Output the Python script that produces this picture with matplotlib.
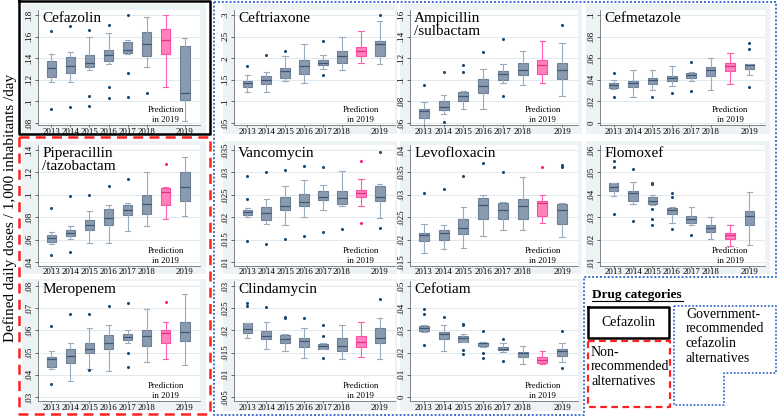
import matplotlib
matplotlib.use("Agg")
import matplotlib.pyplot as plt
from matplotlib.patches import Rectangle
from matplotlib.lines import Line2D
import matplotlib.transforms as mtransforms

plt.rcParams['font.family'] = 'Liberation Serif'

W, H = 778, 418

years = ["2013", "2014", "2015", "2016", "2017", "2018", "2019"]
year_pos = [1, 2, 3, 4, 5, 6, 8]   # position 7 is the 2019 prediction

# box stats per year: (whisker low, q1, median, q3, whisker high); 7th entry = prediction
cefazolin = [(.118, .123, .131, .137, .144), (.118, .126, .133, .141, .146), (.129, .132, .136, .143, .160),
             (.135, .137, .143, .148, .163), (.144, .145, .148, .155, .157), (.132, .142, .153, .164, .178),
             (.113, .144, .157, .167, .180), (.082, .101, .108, .151, .159)]
cefazolin_out = [[.165, .093], [.170, .095], [.166, .105, .096], [.171, .113, .103], [.180, .126, .104], [.108], [], []]

ceftriaxone = [(.121, .133, .143, .148, .161), (.121, .140, .149, .158, .167), (.148, .154, .170, .177, .205),
               (.143, .164, .181, .196, .234), (.175, .184, .190, .195, .207), (.173, .189, .204, .216, .249),
               (.190, .204, .217, .226, .262), (.187, .205, .233, .240, .287)]
ceftriaxone_out = [[.183], [.207], [.217], [], [.240, .160], [], [], [.300]]

ampicillin = [(.056, .065, .071, .0725, .079), (.068, .072, .075, .080, .0856), (.073, .080, .085, .089, .090),
              (.073, .0875, .094, .1006, .110), (.097, .100, .105, .108, .115), (.095, .104, .109, .116, .127),
              (.097, .105, .114, .118, .136), (.085, .101, .109, .116, .134)]
ampicillin_out = [[.095], [.1075, .061], [.114, .107], [.126], [.1375, .085], [], [], [.151]]

cefmetazole = [(.0317, .0326, .035, .037, .0396), (.0244, .0335, .0366, .039, .0488), (.0305, .036, .0396, .0418, .0494),
               (.034, .039, .042, .0436, .053), (.0387, .042, .0445, .046, .047), (.031, .0433, .0488, .0518, .060),
               (.0357, .0479, .053, .056, .0646), (.0442, .0497, .0537, .0543, .0545)]
cefmetazole_out = [[.046, .0238], [], [.0244], [.028], [.0567, .030], [], [], [.0744, .0683, .0335]]

piperacillin = [(.0558, .0579, .061, .0639, .0669), (.0603, .063, .0663, .0684, .0722), (.057, .069, .0734, .0773, .0854),
                (.057, .0734, .0794, .0869, .0913), (.0678, .0818, .0863, .0907, .0928), (.0722, .0833, .0916, .0997, .1206),
                (.0788, .0913, .1027, .1057, .1066), (.0809, .0943, .1066, .120, .1334)]
piperacillin_out = [[.0884, .046], [.0988, .049], [.0997], [.108], [.1137], [], [.1275], []]

vancomycin = [(.020, .0205, .0211, .0215, .022), (.0185, .0194, .0209, .0222, .0241), (.0183, .0217, .0226, .0245, .027),
              (.0201, .0225, .0235, .0251, .0284), (.0217, .0239, .0246, .0258, .0271), (.0224, .023, .0243, .0258, .0303),
              (.0225, .0245, .0254, .0261, .0286), (.0199, .0236, .0245, .0269, .0275)]
vancomycin_out = [[.0292, .0241, .0147], [.0301, .014], [.0306, .0151], [.0314, .0159], [.0312, .0168], [.0174],
                  [.0326, .0186], [.0346, .0175]]

levofloxacin = [(.017, .0196, .021, .0215, .0234), (.0178, .020, .0215, .0222, .0232), (.0182, .0212, .0227, .0247, .0273),
                (.0207, .0247, .0277, .0293, .030), (.0222, .0247, .0266, .0282, .0284), (.0222, .0245, .0275, .029, .0339),
                (.0238, .0252, .0282, .0287, .030), (.0206, .0234, .0266, .028, .0281)]
levofloxacin_out = [[.0303], [.0314], [.0342], [.0372], [.0351], [], [.0363], [.0366, .0363]]

flomoxef = [(.0396, .0416, .0436, .0451, .0451), (.0361, .0372, .0406, .0419, .0455), (.0354, .0357, .0373, .0388, .0399),
            (.0272, .0315, .0331, .0342, .0346), (.0267, .0276, .0294, .0306, .0346), (.0204, .0234, .0254, .0264, .0301),
            (.0172, .0201, .0222, .023, .0267), (.0178, .0264, .0304, .0327, .0413)]
flomoxef_out = [[.0551, .0522, .0315], [.0513, .0282], [.0454, .0446, .0336, .0294, .0267], [.0406, .0388, .0246],
                [.0222], [], [], []]

meropenem = [(.0424, .0436, .047, .0481, .0506), (.0371, .0455, .0484, .0518, .0541), (.0428, .0496, .0518, .0544, .0609),
             (.0416, .0514, .0544, .0579, .0624), (.0545, .0556, .0571, .0583, .0604), (.0458, .053, .0576, .0604, .0696),
             (.0473, .0545, .0589, .0601, .0639), (.0446, .0551, .0591, .0639, .0762)]
meropenem_out = [[.0621, .036], [.0673], [.0673, .042], [.071], [.0722, .0499, .0436], [], [.0726], []]

clindamycin = [(.0184, .0195, .0204, .0216, .0217), (.0159, .018, .0187, .0199, .0218), (.0154, .0172, .018, .0189, .0191),
               (.0138, .0163, .0176, .0183, .0206), (.0157, .0159, .0164, .0169, .0172), (.0135, .0154, .0165, .0182, .0212),
               (.0139, .0163, .0174, .0187, .0219), (.0135, .0172, .0184, .0206, .0227)]
clindamycin_out = [[.0262, .0255], [.0253], [.0231, .0227], [.0227], [.0212, .0188, .0138], [], [], [.0271]]

cefotiam = [(.0294, .0297, .0312, .0321, .0324), (.0208, .0261, .0283, .0294, .0324), (.0248, .0248, .0264, .0274, .0282),
            (.0226, .0229, .0241, .0245, .0249), (.0203, .0211, .0218, .0226, .0241), (.0148, .0181, .0196, .0203, .023),
            (.0148, .0154, .0166, .0178, .0206), (.0158, .0184, .0206, .0215, .0244)]
cefotiam_out = [[.0395, .0373, .0236], [.0361], [.0331, .0324, .0211, .0193], [.0297, .0199, .0176], [.026, .0161],
                [], [], [.0298, .0131]]

# (title, stats, outliers, yticks, row, col)
panels = [
    ("Cefazolin", cefazolin, cefazolin_out, [.08, .10, .12, .14, .16, .18], 0, 0),
    ("Ceftriaxone", ceftriaxone, ceftriaxone_out, [.05, .10, .15, .20, .25, .30], 0, 1),
    ("Ampicillin\n/sulbactam", ampicillin, ampicillin_out, [.06, .08, .10, .12, .14, .16], 0, 2),
    ("Cefmetazole", cefmetazole, cefmetazole_out, [0, .02, .04, .06, .08, .10], 0, 3),
    ("Piperacillin\n/tazobactam", piperacillin, piperacillin_out, [.04, .06, .08, .10, .12, .14], 1, 0),
    ("Vancomycin", vancomycin, vancomycin_out, [.010, .015, .020, .025, .030, .035], 1, 1),
    ("Levofloxacin", levofloxacin, levofloxacin_out, [.015, .020, .025, .030, .035, .040], 1, 2),
    ("Flomoxef", flomoxef, flomoxef_out, [.01, .02, .03, .04, .05, .06], 1, 3),
    ("Meropenem", meropenem, meropenem_out, [.03, .04, .05, .06, .07, .08], 2, 0),
    ("Clindamycin", clindamycin, clindamycin_out, [.005, .010, .015, .020, .025, .030], 2, 1),
    ("Cefotiam", cefotiam, cefotiam_out, [0, .01, .02, .03, .04, .05], 2, 2),
]

# layout in pixels
col_plot = [(38, 200), (234, 395), (410, 578), (600, 765)]
col_bg = [(22, 206), (223, 397), (400, 582), (586, 770)]
row_ticks = [(15, 123), (150, 262), (286, 397)]
row_bot_pad = [2, 4, 4]
row_bg = [(4, 134), (141, 274), (279, 411)]

GREY_FILL, GREY_EDGE, GREY_MED, GREY_WHISK = "#8A9BB0", "#6E8098", "#3E5574", "#9AABBD"
PINK_FILL, PINK_EDGE, PINK_MED, PINK_WHISK = "#FF82BC", "#FF4DA6", "#E02F80", "#FF5CAD"
DOT = "#1A476F"
BG = "#EDF2F4"

fig = plt.figure(figsize=(W / 100, H / 100), dpi=100)


def fig_rect(l, t, r, b):
    return [l / W, 1 - b / H, (r - l) / W, (b - t) / H]


def fmt(v):
    s = f"{v:g}"
    return s[1:] if s.startswith("0.") else s


for title, stats, outs, yt, r, c in panels:
    bl, br = col_bg[c]
    bt, bb = row_bg[r]
    fig.patches.append(Rectangle((bl / W, 1 - bb / H), (br - bl) / W, (bb - bt) / H,
                                 transform=fig.transFigure, facecolor=BG, edgecolor="none", zorder=-5))
    t0, t1 = row_ticks[r]
    pl, pr = col_plot[c]
    top, bot = t0 - 5, t1 + row_bot_pad[r]
    ax = fig.add_axes(fig_rect(pl, top, pr, bot))
    span = yt[-1] - yt[0]
    per_px = span / (t1 - t0)
    ax.set_ylim(yt[0] - row_bot_pad[r] * per_px, yt[-1] + 5 * per_px)
    ax.set_xlim(0.3, 8.8)
    ax.set_facecolor("white")

    for i, (lo, q1, med, q3, hi) in enumerate(stats):
        pred = (i == 6)
        st = [dict(whislo=lo, q1=q1, med=med, q3=q3, whishi=hi, fliers=outs[i])]
        fc, ec, mc, wc = (PINK_FILL, PINK_EDGE, PINK_MED, PINK_WHISK) if pred else (GREY_FILL, GREY_EDGE, GREY_MED, GREY_WHISK)
        ax.bxp(st, positions=[i + 1], widths=0.5, capwidths=0.28, patch_artist=True, showfliers=True,
               boxprops=dict(facecolor=fc, edgecolor=ec, linewidth=0.8),
               medianprops=dict(color=mc, linewidth=0.9),
               whiskerprops=dict(color=wc, linewidth=0.8),
               capprops=dict(color=wc, linewidth=0.8),
               flierprops=dict(marker="o", markersize=2.2, markerfacecolor="#FF1A8C" if pred else DOT,
                               markeredgecolor="none"))

    ax.set_yticks(yt)
    ax.set_yticklabels([fmt(v) for v in yt], rotation=90, va="center", fontsize=6.3)
    ax.set_xticks(year_pos)
    ax.set_xticklabels(years, fontsize=6.3)
    ax.tick_params(axis="y", length=2, width=0.5, pad=1, colors="#333333", labelcolor="black")
    ax.tick_params(axis="x", length=1.5, width=0.5, pad=0.3, colors="#333333", labelcolor="black")
    ax.yaxis.grid(True, color="#DCE5EA", linewidth=0.6)
    ax.set_axisbelow(True)
    for side in ("top", "right"):
        ax.spines[side].set_visible(False)
    for side in ("left", "bottom"):
        ax.spines[side].set_color("#555555")
        ax.spines[side].set_linewidth(0.5)

    ax.text(0.025, 0.985, title, transform=ax.transAxes, ha="left", va="top", fontsize=11, linespacing=1.0)
    trans = mtransforms.blended_transform_factory(ax.transData, ax.transAxes)
    ax.text(7, 0.01, "Prediction\nin 2019", transform=trans, ha="center", va="bottom", fontsize=6.3,
            linespacing=1.25)

fig.text(10 / W, 1 - 208 / H, "Defined daily doses / 1,000 inhabitants /day", rotation=90,
         ha="center", va="center", fontsize=11)


def px_line(xs, ys, **kw):
    fig.lines.append(Line2D([x / W for x in xs], [1 - y / H for y in ys], transform=fig.transFigure,
                            zorder=10, **kw))


# category frames
px_line([19, 210, 210, 19, 19], [1, 1, 134, 134, 1], color="black", linewidth=1.8)
px_line([19, 210, 210, 19, 19], [137, 137, 414, 414, 137], color="#FF2020", linewidth=1.8,
        linestyle=(0, (4, 2.5)))
px_line([214, 776, 776, 584, 584, 214, 214], [2, 2, 277, 277, 415, 415, 2], color="#3F6FD0", linewidth=1.4,
        linestyle=(0, (1, 1)))

# legend
fig.text(592 / W, 1 - 295 / H, "Drug categories", fontsize=9.5, fontweight="bold", ha="left", va="center")
px_line([592, 683], [301, 301], color="black", linewidth=0.8)
px_line([588, 669, 669, 588, 588], [307, 307, 338, 338, 307], color="black", linewidth=1.8)
fig.text(628 / W, 1 - 322 / H, "Cefazolin", fontsize=10, ha="center", va="center")
px_line([588, 670, 670, 588, 588], [341, 341, 407, 407, 341], color="#FF2020", linewidth=1.6,
        linestyle=(0, (3, 2)))
fig.text(591 / W, 1 - 346 / H, "Non-\nrecommended\nalternatives", fontsize=10, ha="left", va="top",
         linespacing=1.15)
px_line([674, 776, 776, 724, 724, 674, 674], [306, 306, 373, 373, 405, 405, 306], color="#3F6FD0",
        linewidth=1.3, linestyle=(0, (1, 1)))
fig.text(686 / W, 1 - 308 / H, "Government-\nrecommended\ncefazolin\nalternatives", fontsize=10,
         ha="left", va="top", linespacing=1.15)

fig.savefig("out.png", dpi=100)
